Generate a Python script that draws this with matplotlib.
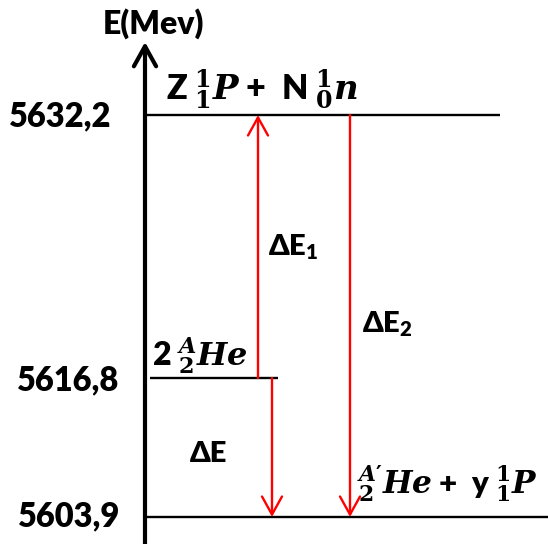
import numpy as np
import matplotlib
matplotlib.use('Agg')
import matplotlib.pyplot as plt
from matplotlib.transforms import Affine2D

# energy levels (MeV)
energies = [5632.2, 5616.8, 5603.9]
energy_labels = ['5632,2', '5616,8', '5603,9']
level_names = [r'Z ${}^{1}_{1}P$ +  N ${}^{1}_{0}n$',
               r'2 ${}^{A}_{2}He$',
               r"${}^{A\prime}_{2}He$ +  y ${}^{1}_{1}P$"]

# transitions between levels
arrow_labels = [r'ΔE$_{\mathbf{1}}$', r'ΔE$_{\mathbf{2}}$', 'ΔE']
arrow_from = [5616.8, 5632.2, 5616.8]
arrow_to = [5632.2, 5603.9, 5603.9]

# layout (pixels) - the diagram is schematic, not to scale
W, H = 548, 544
level_px = [429, 166, 27]          # height of each level above the bottom
level_x0 = [145, 150, 145]
level_x1 = [500, 278, 548]
arrow_x = [258, 350, 272]
axis_x = 145

plt.rcParams['font.family'] = ['Lato', 'DejaVu Sans']
plt.rcParams['font.weight'] = 'heavy'
plt.rcParams['mathtext.fontset'] = 'custom'
plt.rcParams['mathtext.rm'] = 'DejaVu Serif:bold'
plt.rcParams['mathtext.it'] = 'DejaVu Serif:bold:italic'
plt.rcParams['mathtext.bf'] = 'Lato:heavy'

Es = np.array(energies[::-1])
Ps = np.array(level_px[::-1], dtype=float)


def fwd(e):
    e = np.asarray(e, dtype=float)
    lo = Ps[0] + (e - Es[0]) * (Ps[1] - Ps[0]) / (Es[1] - Es[0])
    hi = Ps[1] + (e - Es[1]) * (Ps[2] - Ps[1]) / (Es[2] - Es[1])
    return np.where(e < Es[1], lo, hi)


def inv(p):
    p = np.asarray(p, dtype=float)
    lo = Es[0] + (p - Ps[0]) * (Es[1] - Es[0]) / (Ps[1] - Ps[0])
    hi = Es[1] + (p - Ps[1]) * (Es[2] - Es[1]) / (Ps[2] - Ps[1])
    return np.where(p < Ps[1], lo, hi)


fig = plt.figure(figsize=(W / 100, H / 100), dpi=100)
ax = fig.add_axes([0, 0, 1, 1])
ax.set_xlim(0, W)
ax.set_yscale('function', functions=(fwd, inv))
ax.set_ylim(float(inv(0)), float(inv(H)))
ax.axis('off')

# energy axis with arrow
ax.annotate('', xy=(axis_x, (H - 42) / H), xytext=(axis_x, 0),
            xycoords=('data', 'axes fraction'),
            arrowprops=dict(arrowstyle='->,head_length=0.72,head_width=0.4',
                            mutation_scale=20, lw=3, color='black',
                            shrinkA=0, shrinkB=0))

ax.hlines(energies, level_x0, level_x1, colors='black', lw=1.7)

for x, e0, e1 in zip(arrow_x, arrow_from, arrow_to):
    ax.annotate('', xy=(x, e1), xytext=(x, e0),
                arrowprops=dict(arrowstyle='->,head_length=0.65,head_width=0.36',
                                mutation_scale=20, lw=1.7, color='red',
                                shrinkA=0, shrinkB=0))

# text in pixel coordinates from the top-left corner
pix = Affine2D().scale(1, -1).translate(0, H)

fig.text(153, 24, 'E(Mev)', transform=pix, ha='center', va='center', fontsize=23)

label_pos = [(9, 116), (17, 380), (18, 516)]
for (x, y), s in zip(label_pos, energy_labels):
    fig.text(x, y, s, transform=pix, ha='left', va='center', fontsize=23.5)

name_pos = [(166, 100), (152, 366), (357, 494)]
name_size = [24.5, 23, 22.5]
for (x, y), s, fs in zip(name_pos, level_names, name_size):
    fig.text(x, y, s, transform=pix, ha='left', va='baseline', fontsize=fs)

dlabel_pos = [(268, 255), (362, 332), (190, 462)]
for (x, y), s in zip(dlabel_pos, arrow_labels):
    fig.text(x, y, s, transform=pix, ha='left', va='baseline', fontsize=21)

fig.savefig('out.png', dpi=100)
